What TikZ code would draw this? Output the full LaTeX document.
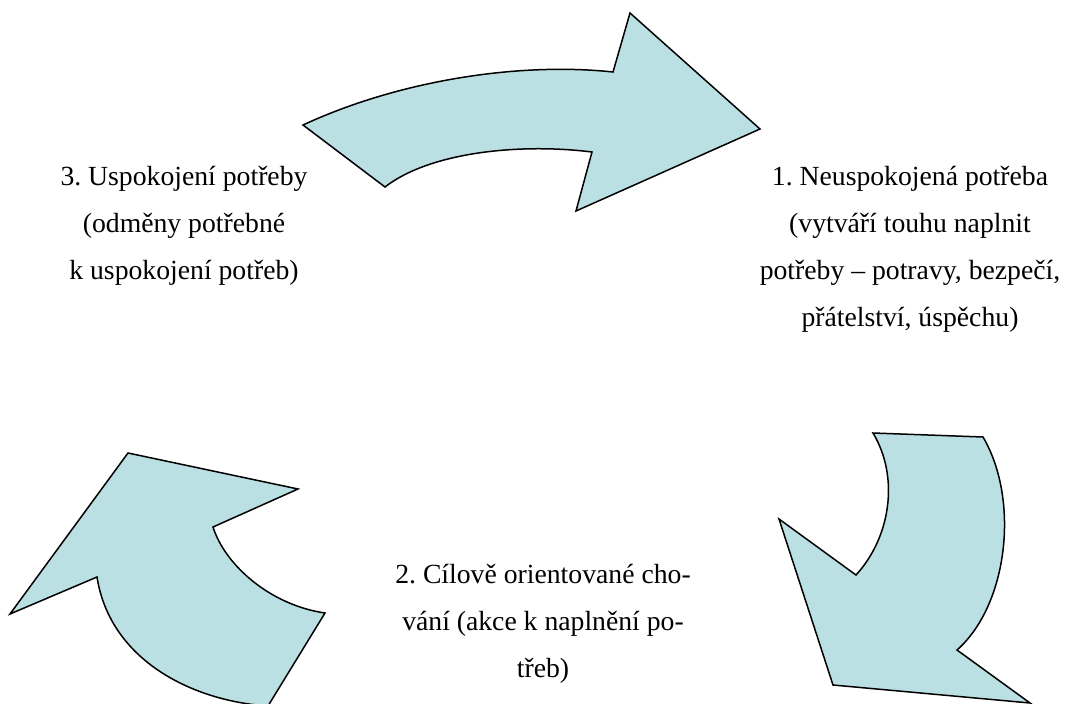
\documentclass[tikz,border=0pt]{standalone}
\usepackage{fontspec}
\setmainfont{Liberation Serif}
\frenchspacing
\definecolor{arrowfill}{RGB}{187,224,227}
\tikzset{
  bigarrow/.style={draw=black, fill=arrowfill, line width=1.5pt, line join=miter},
  label/.style={align=center, inner sep=0pt, anchor=base,
    font=\fontsize{27.7}{47}\selectfont}
}
\begin{document}
\begin{tikzpicture}[x=1pt, y=-1pt]
\useasboundingbox (0,0) rectangle (1066,704);
% top arrow (3 -> 1)
\path[bigarrow] (303,125) .. controls (400,80) and (520,62) .. (613,72)
  -- (630,13) -- (760,129) -- (576,211) -- (592,152)
  .. controls (520,143) and (430,152) .. (385,187) -- cycle;
% right arrow (1 -> 2)
\path[bigarrow] (873,433) -- (983,437)
  .. controls (1020,500) and (1008,605) .. (957,650)
  -- (1030,703) -- (833,685) -- (779,519) -- (856,575)
  .. controls (890,538) and (900,478) .. (873,433) -- cycle;
% left arrow (2 -> 3)
\path[bigarrow] (128,453) -- (298,489) -- (213,527)
  .. controls (225,565) and (270,605) .. (325,613)
  -- (268,706) .. controls (192,701) and (110,660) .. (97,577)
  -- (10,614) -- cycle;
% texts (anchor base = baseline of the last line)
\node[label] (t1) at (910,326) {1. Neuspokojená potřeba\\(vytváří touhu naplnit\\potřeby – potravy, bezpečí,\\přátelství, úspěchu)};
\node[label] (t2) at (543,677) {2. Cílově orientované cho-\\vání (akce k naplnění po-\\třeb)};
\node[label] (t3) at (184,279) {3. Uspokojení potřeby\\(odměny potřebné\\k uspokojení potřeb)};
\end{tikzpicture}
\end{document}
